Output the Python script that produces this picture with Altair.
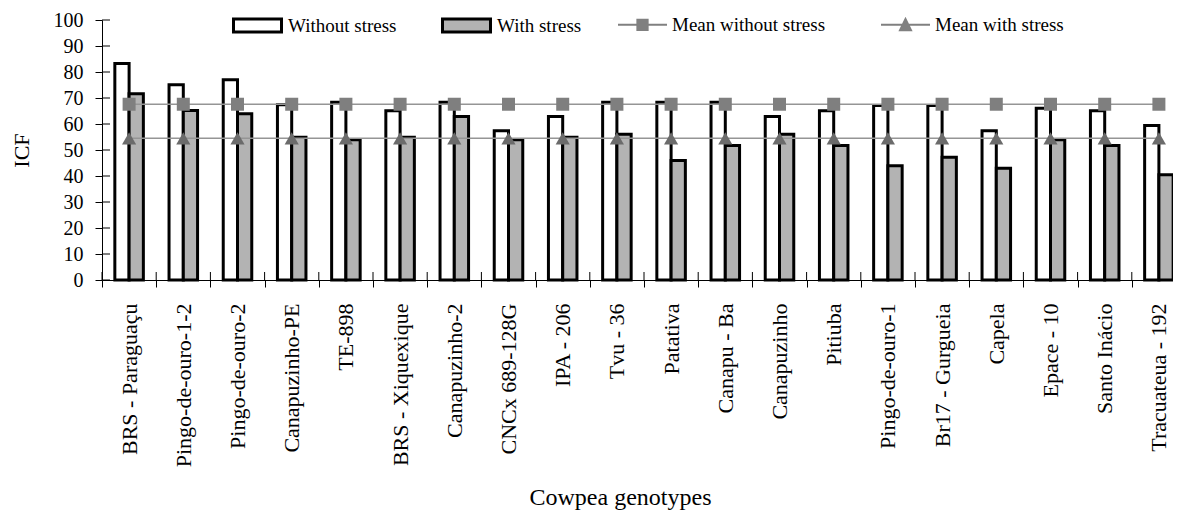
import altair as alt
import pandas as pd

genotypes = [
    "BRS - Paraguaçu", "Pingo-de-ouro-1-2", "Pingo-de-ouro-2", "Canapuzinho-PE",
    "TE-898", "BRS - Xiquexique", "Canapuzinho-2", "CNCx 689-128G", "IPA - 206",
    "Tvu - 36", "Patativa", "Canapu - Ba", "Canapuzinho", "Pitiuba",
    "Pingo-de-ouro-1", "Br17 - Gurgueia", "Capela", "Epace - 10", "Santo Inácio",
    "Tracuateua - 192",
]
without_stress = [83.3, 75.1, 77.0, 67.4, 68.4, 65.1, 68.4, 57.4, 62.9, 68.4,
                  68.4, 68.4, 62.9, 65.1, 67.1, 67.1, 57.4, 66.1, 65.1, 59.4]
with_stress = [71.6, 65.2, 63.9, 54.9, 53.9, 54.9, 62.9, 53.9, 54.9, 56.1,
               46.0, 51.7, 56.1, 51.7, 43.9, 47.2, 43.0, 53.9, 51.7, 40.5]
mean_without = 67.6
mean_with = 54.5
y_ticks = [0, 10, 20, 30, 40, 50, 60, 70, 80, 90, 100]
bar_labels = ["Without stress", "With stress"]
mean_labels = ["Mean without stress", "Mean with stress"]

n = len(genotypes)
bars = pd.DataFrame({
    "genotype": genotypes * 2,
    "series": [bar_labels[0]] * n + [bar_labels[1]] * n,
    "value": without_stress + with_stress,
})
means = pd.DataFrame({
    "genotype": genotypes * 2,
    "series": [mean_labels[0]] * n + [mean_labels[1]] * n,
    "value": [mean_without] * n + [mean_with] * n,
})
ticks_df = pd.DataFrame({"value": y_ticks})
cats_df = pd.DataFrame({"genotype": genotypes})

FONT = "Liberation Serif"
PLOT_W = 1071
PLOT_H = 260
X_SPAN = 1084

x_axis = alt.Axis(
    title="Cowpea genotypes", labelAngle=-90, labelFont=FONT, labelFontSize=22,
    labelPadding=16, tickSize=7, tickBand="extent", labelOverlap=False,
    labelLimit=400, titleFont=FONT, titleFontSize=24, titleFontWeight="normal",
    titleX=518, titleY=224, titleBaseline="alphabetic", titleAlign="center",
)
y_axis = alt.Axis(
    title="ICF", values=y_ticks, tickSize=7, labelPadding=12, labelFont=FONT,
    labelFontSize=20, titleFont=FONT, titleFontSize=22, titleFontWeight="normal",
    titleX=-81, titleY=130, titleAngle=-90, titleBaseline="middle", titleAlign="center",
)


def X(**kw):
    return alt.X("genotype:N", sort=genotypes,
                 scale=alt.Scale(range=[0, X_SPAN], paddingInner=0, paddingOuter=0),
                 axis=x_axis, **kw)


def Y():
    return alt.Y("value:Q", scale=alt.Scale(domain=[0, 100], nice=False, zero=True),
                 axis=y_axis)


bar_layer = alt.Chart(bars).mark_bar(stroke="black", strokeWidth=3).encode(
    x=X(),
    y=Y(),
    xOffset=alt.XOffset("series:N", sort=bar_labels,
                        scale=alt.Scale(paddingInner=0, paddingOuter=0.9)),
    fill=alt.Fill(
        "series:N", sort=bar_labels,
        scale=alt.Scale(domain=bar_labels, range=["white", "#b3b3b3"]),
        legend=alt.Legend(
            title=None, orient="none", legendX=130, legendY=-20,
            direction="horizontal", symbolType="M-1,-0.27H1V0.27H-1Z",
            symbolSize=2304, symbolStrokeColor="black", symbolStrokeWidth=3,
            labelFont=FONT, labelFontSize=19, labelColor="black", labelOffset=5,
            labelLimit=400, columnPadding=39, padding=0,
        ),
    ),
)

line_layer = alt.Chart(means).mark_line(color="#959595", strokeWidth=1.5).encode(
    x=X(), y=Y(), detail="series:N"
)

y_stubs = alt.Chart(ticks_df).mark_rule(color="black", strokeWidth=1).encode(
    y=Y(), x=alt.value(0), x2=alt.value(8)
)
x_stubs = alt.Chart(cats_df).mark_rule(color="black", strokeWidth=1).encode(
    x=X(bandPosition=0), y=alt.value(PLOT_H - 8), y2=alt.value(PLOT_H)
)

squares = alt.Chart(means).transform_filter(
    alt.datum.series == mean_labels[0]
).mark_square(size=169, color="#7f7f7f", opacity=1).encode(x=X(), y=Y())

triangles = alt.Chart(means).transform_filter(
    alt.datum.series == mean_labels[1]
).mark_point(shape="triangle-up", filled=True, size=200, color="#6b6b6b",
             opacity=1).encode(x=X(), y=Y())

sq_path = "M-1,-0.04H1V0.04H-1Z M-0.25,-0.25H0.25V0.25H-0.25Z"
tri_path = "M-1,-0.04H1V0.04H-1Z M0,-0.33L0.29,0.27H-0.29Z"

legend_layer = alt.Chart(means).mark_point(filled=True, color="#808080", opacity=0).encode(
    x=X(), y=Y(),
    shape=alt.Shape(
        "series:N", sort=mean_labels,
        scale=alt.Scale(domain=mean_labels, range=[sq_path, tri_path]),
        legend=alt.Legend(
            title=None, orient="none", legendX=516, legendY=-20,
            direction="horizontal", symbolSize=2401, symbolFillColor="#808080",
            symbolStrokeWidth=0, symbolOpacity=1,
            labelFont=FONT, labelFontSize=19, labelColor="black", labelOffset=5,
            labelLimit=400, columnPadding=55, padding=0,
        ),
    ),
)

chart = alt.layer(
    bar_layer, line_layer, y_stubs, x_stubs, squares, triangles, legend_layer
).properties(
    width=PLOT_W, height=PLOT_H,
    autosize=alt.AutoSizeParams(type="none"),
    padding={"left": 94, "top": 12, "right": 0, "bottom": 230},
).configure(font=FONT).configure_view(stroke=None).configure_axis(
    grid=False, domainColor="black", tickColor="black", labelColor="black",
    titleColor="black", domainWidth=1, tickWidth=1, labelFont=FONT, titleFont=FONT,
).configure_legend(labelFont=FONT)

chart.save("out.html", embed_options={"renderer": "svg", "actions": False})
